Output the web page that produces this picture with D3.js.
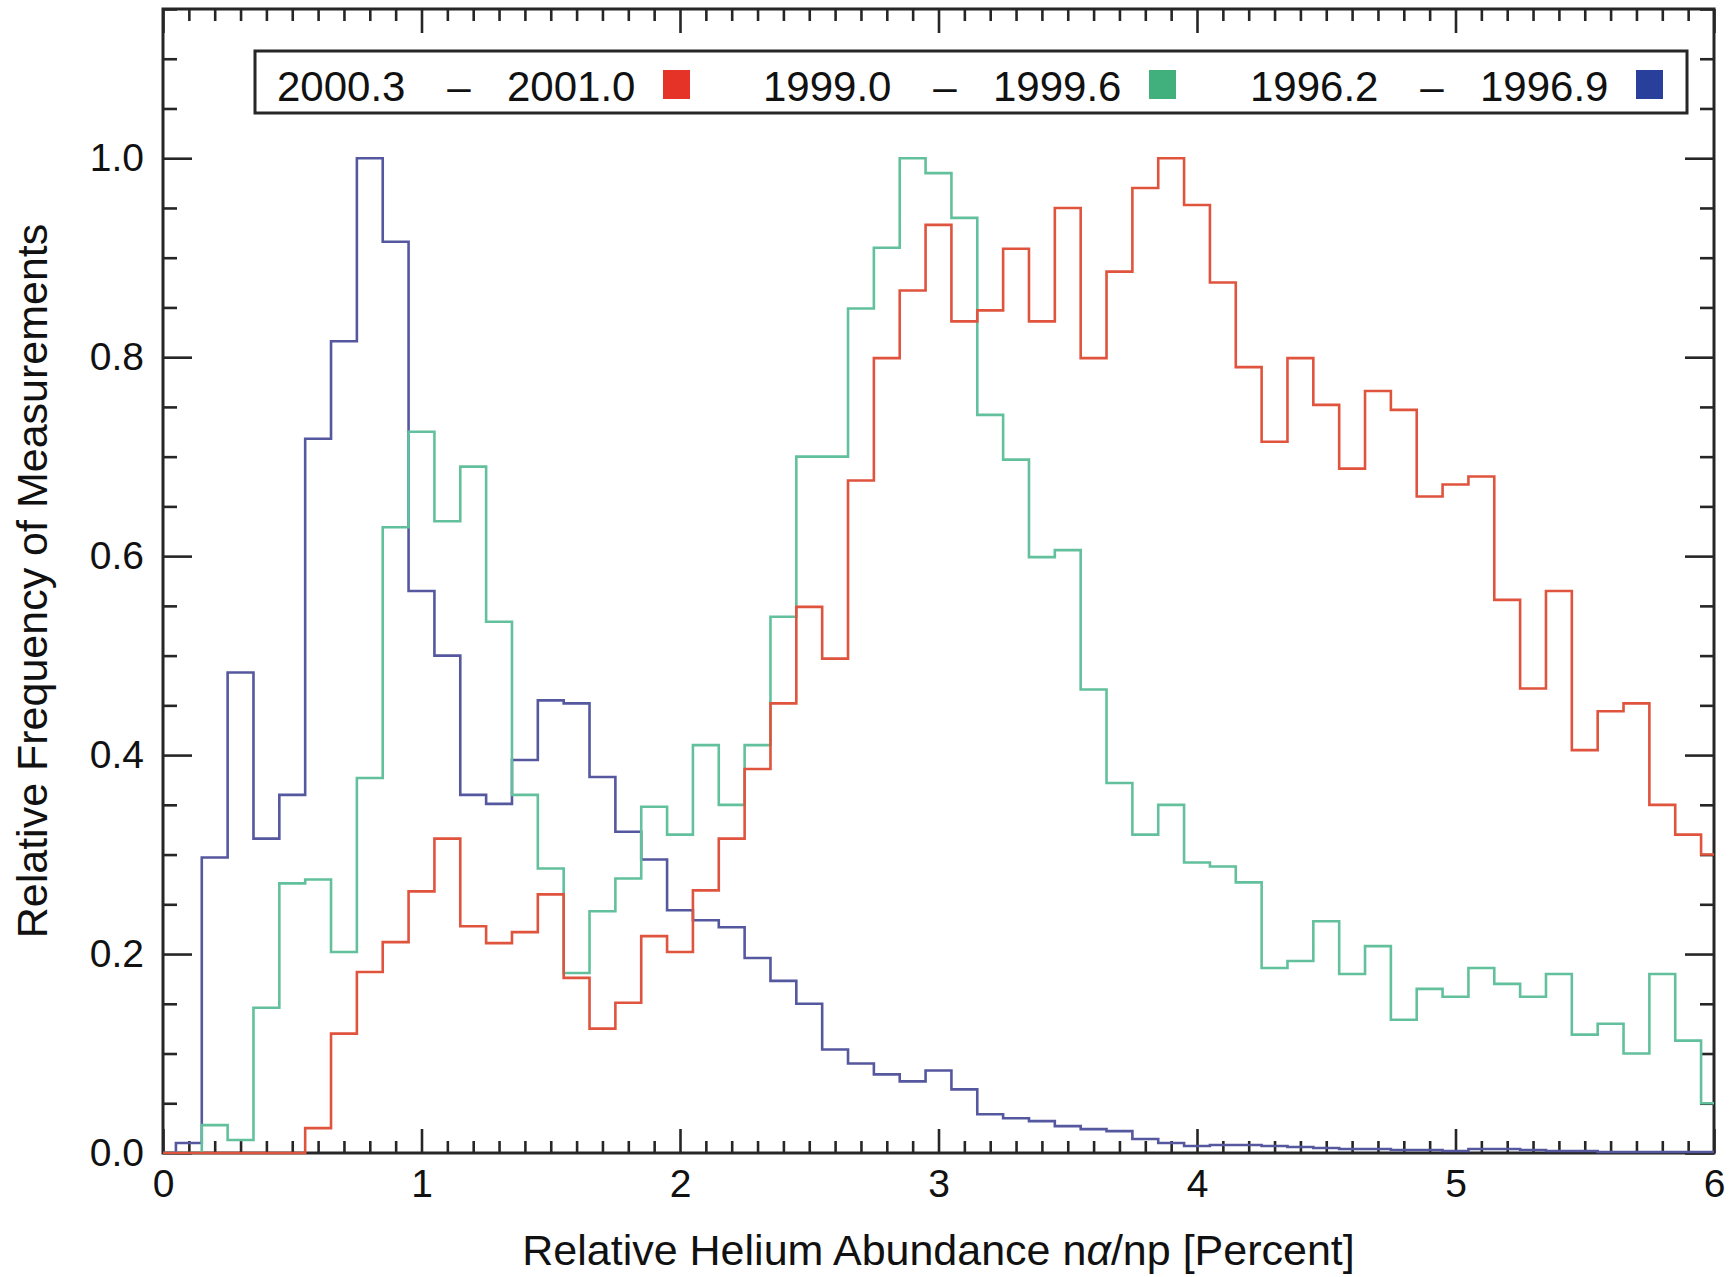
<!DOCTYPE html>
<html>
<head>
<meta charset="utf-8">
<script src="https://cdn.jsdelivr.net/npm/d3@7"></script>
<style>
  html, body { margin: 0; padding: 0; background: #fff; }
  svg { display: block; font-family: "Liberation Sans", Arial, Helvetica, sans-serif; }
</style>
</head>
<body>
<svg id="chart" width="1735" height="1277"></svg>
<script>
// Histogram bins: centres in percent (bin width 0.1)
const binCenters = [
  0.0, 0.1, 0.2, 0.3, 0.4, 0.5, 0.6, 0.7, 0.8, 0.9,
  1.0, 1.1, 1.2, 1.3, 1.4, 1.5, 1.6, 1.7, 1.8, 1.9,
  2.0, 2.1, 2.2, 2.3, 2.4, 2.5, 2.6, 2.7, 2.8, 2.9,
  3.0, 3.1, 3.2, 3.3, 3.4, 3.5, 3.6, 3.7, 3.8, 3.9,
  4.0, 4.1, 4.2, 4.3, 4.4, 4.5, 4.6, 4.7, 4.8, 4.9,
  5.0, 5.1, 5.2, 5.3, 5.4, 5.5, 5.6, 5.7, 5.8, 5.9,
  6.0
];
const binWidth = 0.1;

// Relative frequency per bin, one list per time interval
const freq2000 = [
  0, 0, 0, 0, 0, 0, 0.025, 0.12, 0.182, 0.212,
  0.263, 0.316, 0.228, 0.211, 0.222, 0.26, 0.176, 0.125, 0.151, 0.218,
  0.202, 0.264, 0.316, 0.386, 0.452, 0.549, 0.497, 0.676, 0.799, 0.867,
  0.933, 0.836, 0.847, 0.909, 0.836, 0.95, 0.799, 0.886, 0.97, 1.0,
  0.953, 0.875, 0.79, 0.715, 0.799, 0.752, 0.688, 0.766, 0.747, 0.66,
  0.672, 0.68, 0.556, 0.467, 0.565, 0.405, 0.444, 0.452, 0.35, 0.32,
  0.30
];
const freq1999 = [
  0, 0, 0.028, 0.013, 0.146, 0.271, 0.275, 0.202, 0.377, 0.629,
  0.725, 0.635, 0.69, 0.534, 0.36, 0.286, 0.181, 0.243, 0.276, 0.348,
  0.32, 0.41, 0.35, 0.41, 0.539, 0.70, 0.70, 0.849, 0.91, 1.0,
  0.985, 0.94, 0.742, 0.697, 0.599, 0.606, 0.466, 0.372, 0.32, 0.35,
  0.292, 0.288, 0.272, 0.186, 0.193, 0.233, 0.18, 0.208, 0.134, 0.165,
  0.157, 0.186, 0.17, 0.157, 0.18, 0.119, 0.13, 0.10, 0.18, 0.113,
  0.05
];
const freq1996 = [
  0, 0.01, 0.297, 0.483, 0.316, 0.36, 0.718, 0.816, 1.0, 0.916,
  0.565, 0.50, 0.36, 0.351, 0.395, 0.455, 0.452, 0.378, 0.323, 0.295,
  0.244, 0.234, 0.227, 0.196, 0.173, 0.15, 0.104, 0.09, 0.079, 0.072,
  0.083, 0.064, 0.039, 0.035, 0.032, 0.027, 0.024, 0.022, 0.014, 0.010,
  0.007, 0.008, 0.008, 0.007, 0.006, 0.005, 0.004, 0.004, 0.003, 0.003,
  0.002, 0.004, 0.004, 0.003, 0.002, 0.002, 0.001, 0.001, 0.001, 0.001,
  0.001
];

const seriesLabels = [
  ["2000.3", "2001.0"],
  ["1999.0", "1999.6"],
  ["1996.2", "1996.9"]
];
const lineColors = ["#e0533d", "#62c19c", "#55579f"];
const swatchColors = ["#e53327", "#42b07c", "#283f9b"];
const seriesValues = [freq2000, freq1999, freq1996];

const xMajorTicks = [0, 1, 2, 3, 4, 5, 6];
const yMajorTicks = [0, 0.2, 0.4, 0.6, 0.8, 1.0];

const xTitle = "Relative Helium Abundance n";
const yTitle = "Relative Frequency of Measurements";

// ---- layout ----
const margin = { left: 163, right: 1714, top: 9, bottom: 1153 };
const x = d3.scaleLinear().domain([0, 6]).range([margin.left, margin.right]);
const y = d3.scaleLinear().domain([0, 1.15]).range([margin.bottom, margin.top]);

const svg = d3.select("#chart");
const axisColor = "#262626";

const xMinorTicks = d3.range(0, 61).map(i => i / 10).filter(v => !xMajorTicks.includes(v));
const yMinorTicks = d3.range(0, 24).map(i => i / 20).filter(v => !yMajorTicks.some(t => Math.abs(t - v) < 1e-9));

function styleAxis(g) {
  g.select(".domain").remove();
  g.selectAll(".tick line").attr("stroke", axisColor).attr("stroke-width", 2.6);
  g.selectAll(".tick text").attr("fill", "#111").attr("font-size", 39)
    .attr("font-family", "'Liberation Sans', Arial, sans-serif");
}

// bottom axis
svg.append("g").attr("transform", `translate(0,${margin.bottom})`)
  .call(d3.axisBottom(x).tickValues(xMajorTicks).tickSize(-24).tickPadding(16).tickFormat(d3.format("d")))
  .call(styleAxis);
svg.append("g").attr("transform", `translate(0,${margin.bottom})`)
  .call(d3.axisBottom(x).tickValues(xMinorTicks).tickSize(-12).tickFormat(""))
  .call(styleAxis);
// top axis
svg.append("g").attr("transform", `translate(0,${margin.top})`)
  .call(d3.axisTop(x).tickValues(xMajorTicks).tickSize(-24).tickFormat(""))
  .call(styleAxis);
svg.append("g").attr("transform", `translate(0,${margin.top})`)
  .call(d3.axisTop(x).tickValues(xMinorTicks).tickSize(-12).tickFormat(""))
  .call(styleAxis);
// left axis
svg.append("g").attr("transform", `translate(${margin.left},0)`)
  .call(d3.axisLeft(y).tickValues(yMajorTicks).tickSize(-29).tickPadding(19).tickFormat(d3.format(".1f")))
  .call(styleAxis);
svg.append("g").attr("transform", `translate(${margin.left},0)`)
  .call(d3.axisLeft(y).tickValues(yMinorTicks).tickSize(-14).tickFormat(""))
  .call(styleAxis);
// right axis
svg.append("g").attr("transform", `translate(${margin.right},0)`)
  .call(d3.axisRight(y).tickValues(yMajorTicks).tickSize(-29).tickFormat(""))
  .call(styleAxis);
svg.append("g").attr("transform", `translate(${margin.right},0)`)
  .call(d3.axisRight(y).tickValues(yMinorTicks).tickSize(-14).tickFormat(""))
  .call(styleAxis);

// frame
svg.append("rect")
  .attr("x", margin.left).attr("y", margin.top)
  .attr("width", margin.right - margin.left).attr("height", margin.bottom - margin.top)
  .attr("fill", "none").attr("stroke", axisColor).attr("stroke-width", 3);

// ---- histogram step lines ----
function stepPoints(values) {
  const pts = [];
  binCenters.forEach((c, i) => {
    const x0 = Math.max(0, c - binWidth / 2);
    const x1 = Math.min(6, c + binWidth / 2);
    pts.push([x0, values[i]], [x1, values[i]]);
  });
  return pts;
}
const line = d3.line().x(d => x(d[0])).y(d => y(d[1]));

// draw oldest interval first so the newest sits on top
[2, 1, 0].forEach(k => {
  svg.append("path")
    .attr("d", line(stepPoints(seriesValues[k])))
    .attr("fill", "none")
    .attr("stroke", lineColors[k])
    .attr("stroke-width", 2.6)
    .attr("stroke-linejoin", "miter");
});

// ---- legend ----
const legend = svg.append("g");
legend.append("rect")
  .attr("x", 255).attr("y", 51).attr("width", 1432).attr("height", 62)
  .attr("fill", "#fff").attr("stroke", axisColor).attr("stroke-width", 3);
const itemX = [277, 763, 1250];
seriesLabels.forEach((lab, k) => {
  const g = legend.append("g").attr("transform", `translate(${itemX[k]},101)`);
  const t = g.append("text").attr("font-size", 42).attr("fill", "#111");
  t.append("tspan").attr("x", 0).text(lab[0]);
  t.append("tspan").attr("x", 182).attr("text-anchor", "middle").text("\u2013");
  t.append("tspan").attr("x", 230).text(lab[1]);
  g.append("rect").attr("x", 386).attr("y", -31).attr("width", 27).attr("height", 29)
    .attr("fill", swatchColors[k]);
});

// ---- axis titles ----
const xt = svg.append("text")
  .attr("x", (margin.left + margin.right) / 2).attr("y", 1265)
  .attr("text-anchor", "middle").attr("font-size", 43).attr("fill", "#111");
xt.append("tspan").text(xTitle);
xt.append("tspan").attr("font-style", "italic").text("\u03b1");
xt.append("tspan").text("/np [Percent]");

svg.append("text")
  .attr("transform", `translate(47,${(margin.top + margin.bottom) / 2}) rotate(-90)`)
  .attr("text-anchor", "middle").attr("font-size", 43).attr("fill", "#111")
  .text(yTitle);
</script>
</body>
</html>
